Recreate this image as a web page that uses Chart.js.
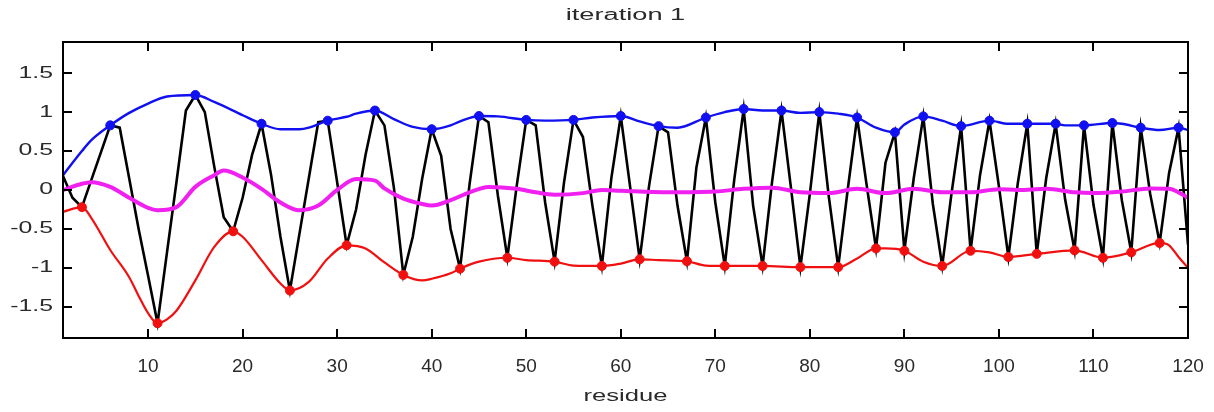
<!DOCTYPE html>
<html><head><meta charset="utf-8">
<script src="https://cdn.jsdelivr.net/npm/chart.js@4.4.1/dist/chart.umd.min.js"></script>
<style>html,body{margin:0;padding:0;background:#fff;overflow:hidden}canvas{display:block}</style>
</head><body>
<canvas id="c" width="1214" height="412"></canvas>
<script>
const titleText = 'iteration 1';
const xAxisTitle = 'residue';
const xTicks = [10,20,30,40,50,60,70,80,90,100,110,120];
const yTicks = [-1.5,-1,-0.5,0,0.5,1,1.5];

// black zig-zag, one value per residue 1..120
const residues = [];
for (let r = 1; r <= 120; r++) residues.push(r);
const blackVals = [
 0.18,-0.1,-0.22,0.13,0.48,0.83,0.8,0.15,-0.5,-1.1,
 -1.71,-0.8,0.1,1.02,1.22,1.0,0.3,-0.35,-0.53,-0.1,
 0.45,0.85,0.2,-0.6,-1.29,-0.57,0.15,0.87,0.89,0.1,
 -0.71,-0.25,0.45,1.02,0.83,0.03,-1.09,-0.6,0.15,0.78,
 0.44,-0.5,-1.01,0.07,0.95,0.87,-0.07,-0.87,0.06,0.90,
 0.83,-0.16,-0.92,0.10,0.90,0.68,-0.2,-0.975,0.15,0.95,
 0.03,-0.89,0.06,0.82,0.74,-0.2,-0.915,0.29,0.93,-0.16,
 -0.975,0.13,1.04,-0.2,-0.975,0.1,1.02,0.03,-0.99,-0.05,
 1.0,-0.08,-0.99,0.0,0.93,0.07,-0.75,0.35,0.74,-0.78,
 0.16,0.945,-0.17,-0.975,-0.03,0.82,-0.78,0.19,0.89,0.045,
 -0.86,0.09,0.85,-0.82,0.15,0.85,-0.12,-0.775,0.83,-0.19,
 -0.87,0.86,-0.13,-0.80,0.80,-0.05,-0.68,0.22,0.80,-0.7
];

// upper envelope (blue)
const blueEnvRes  = [1,3,4,6,8,10,12,15,17,20,22,24,26,27,29,31,32,34,36,38,40,42,43,45,47,50,52,55,57,60,62,64,66,69,71,73,75,77,79,81,83,85,87,89,90,92,94,96,99,101,103,106,107,109,112,113,115,117,119,120];
const blueEnvVals = [0.19,0.50,0.64,0.83,0.99,1.11,1.20,1.22,1.13,0.96,0.85,0.78,0.78,0.80,0.89,0.94,0.98,1.02,0.91,0.81,0.78,0.83,0.88,0.95,0.945,0.90,0.89,0.90,0.93,0.95,0.88,0.82,0.80,0.93,1.0,1.04,1.02,1.02,0.99,1.0,0.98,0.93,0.80,0.74,0.84,0.945,0.89,0.82,0.89,0.85,0.85,0.85,0.83,0.83,0.86,0.85,0.80,0.77,0.80,0.77];

// lower envelope (red)
const redEnvRes  = [1,3,4,6,8,9,10,11,12,13,15,17,19,20,22,24,25,27,29,31,33,35,37,39,40,42,43,45,48,50,53,55,58,60,62,64,67,69,71,75,79,83,85,87,88,90,92,94,97,99,101,104,108,111,114,117,118,119,120];
const redEnvVals = [-0.28,-0.22,-0.36,-0.77,-1.12,-1.36,-1.58,-1.71,-1.66,-1.55,-1.16,-0.73,-0.53,-0.6,-0.9,-1.2,-1.29,-1.18,-0.88,-0.71,-0.75,-0.93,-1.09,-1.16,-1.14,-1.07,-1.01,-0.92,-0.87,-0.9,-0.92,-0.97,-0.975,-0.945,-0.89,-0.9,-0.915,-0.97,-0.975,-0.975,-0.99,-0.99,-0.88,-0.75,-0.75,-0.78,-0.92,-0.975,-0.78,-0.8,-0.86,-0.82,-0.775,-0.87,-0.8,-0.68,-0.71,-0.86,-1.0];

// middle line (magenta)
const magentaRes  = [1,3,4,6,8,10,11,13,15,17,18,20,22,24,26,28,30,32,34,35,37,39,40,42,44,46,49,51,53,56,58,60,65,70,73,76,79,82,85,88,91,94,97,100,102,105,108,110,113,116,118,119,120];
const magentaVals = [0.0,0.08,0.10,0.04,-0.1,-0.23,-0.26,-0.22,0.04,0.19,0.25,0.16,0.015,-0.16,-0.26,-0.2,0.0,0.14,0.12,0.02,-0.11,-0.18,-0.2,-0.13,-0.03,0.04,0.015,-0.03,-0.06,-0.04,0.0,-0.01,-0.03,-0.02,0.015,0.03,-0.03,-0.04,0.015,-0.04,0.015,-0.03,-0.03,0.01,0.0,0.015,-0.03,-0.04,-0.02,0.02,0.015,-0.03,-0.1];

// markers
const bluePeakRes  = [6,15,22,29,34,40,45,50,55,60,64,69,73,77,81,85,89,92,96,99,103,106,109,112,115,119];
const bluePeakVals = [0.83,1.22,0.85,0.89,1.02,0.78,0.95,0.90,0.90,0.95,0.82,0.93,1.04,1.02,1.0,0.93,0.74,0.945,0.82,0.89,0.85,0.85,0.83,0.86,0.80,0.80];
const redTroughRes  = [3,11,19,25,31,37,43,48,53,58,62,67,71,75,79,83,87,90,94,97,101,104,108,111,114,117];
const redTroughVals = [-0.22,-1.71,-0.53,-1.29,-0.71,-1.09,-1.01,-0.87,-0.92,-0.975,-0.89,-0.915,-0.975,-0.975,-0.99,-0.99,-0.75,-0.78,-0.975,-0.78,-0.86,-0.82,-0.775,-0.87,-0.80,-0.68];

const pts = (xs, ys) => xs.map((x, i) => ({x: x, y: ys[i]}));

const BLUE = '#1010f0', RED = '#f01010', MAG = '#f020f0', BLK = '#000000';
const TXT = '#2a2a2a';

const framePlugin = {
  id: 'frame',
  afterDraw(chart) {
    const ctx = chart.ctx, a = chart.chartArea;
    const xs = chart.scales.x, ys = chart.scales.y;
    ctx.save();
    ctx.fillStyle = '#000';
    const L = Math.round(a.left), R = Math.round(a.right), T = Math.round(a.top), B = Math.round(a.bottom);
    // frame
    ctx.fillRect(L - 1, T - 1, R - L + 2, 2);
    ctx.fillRect(L - 1, B - 1, R - L + 2, 2);
    ctx.fillRect(L - 1, T - 1, 2, B - T + 2);
    ctx.fillRect(R - 1, T - 1, 2, B - T + 2);
    // inward tick marks on all four sides
    const tl = 9;
    xTicks.forEach(v => {
      const p = Math.round(xs.getPixelForValue(v));
      ctx.fillRect(p - 1, B - tl, 2, tl);
      ctx.fillRect(p - 1, T, 2, tl);
    });
    yTicks.forEach(v => {
      const p = Math.round(ys.getPixelForValue(v));
      ctx.fillRect(L, p - 1, tl, 2);
      ctx.fillRect(R - tl, p - 1, tl, 2);
    });

    // y tick labels (stretched like the source), positioned by the y scale
    ctx.fillStyle = TXT;
    ctx.font = '16px "Liberation Sans", Arial, sans-serif';
    ctx.textAlign = 'right';
    ctx.textBaseline = 'middle';
    ys.ticks.forEach((t, i) => {
      const p = ys.getPixelForValue(t.value);
      ctx.save(); ctx.translate(L - 10, p); ctx.scale(1.55, 1);
      ctx.fillText(String(yTicks[i]), 0, 0); ctx.restore();
    });

    const cx = (a.left + a.right) / 2;
    ctx.textAlign = 'center';
    ctx.font = '16px "Liberation Sans", Arial, sans-serif';
    ctx.save(); ctx.translate(cx, 16); ctx.scale(1.7, 1); ctx.fillText(titleText, 0, 0); ctx.restore();
    ctx.save(); ctx.translate(cx, 397); ctx.scale(1.6, 1); ctx.fillText(xAxisTitle, 0, 0); ctx.restore();
    ctx.restore();
  }
};

new Chart(document.getElementById('c'), {
  type: 'line',
  data: {
    datasets: [
      { label: 'blue peaks', data: pts(bluePeakRes, bluePeakVals), showLine: false,
        pointRadius: 4.5, pointBackgroundColor: BLUE, pointBorderColor: BLUE, borderColor: BLUE, order: 0 },
      { label: 'red troughs', data: pts(redTroughRes, redTroughVals), showLine: false,
        pointRadius: 4.5, pointBackgroundColor: RED, pointBorderColor: RED, borderColor: RED, order: 0 },
      { label: 'upper', data: pts(blueEnvRes, blueEnvVals), borderColor: BLUE, borderWidth: 2.4,
        pointRadius: 0, cubicInterpolationMode: 'monotone', order: 1 },
      { label: 'lower', data: pts(redEnvRes, redEnvVals), borderColor: RED, borderWidth: 2.2,
        pointRadius: 0, cubicInterpolationMode: 'monotone', order: 1 },
      { label: 'mean', data: pts(magentaRes, magentaVals), borderColor: MAG, borderWidth: 4,
        pointRadius: 0, cubicInterpolationMode: 'monotone', order: 2 },
      { label: 'signal', data: pts(residues, blackVals), borderColor: BLK, borderWidth: 2.6,
        pointRadius: 0, tension: 0, order: 3 }
    ]
  },
  options: {
    responsive: false,
    animation: false,
    devicePixelRatio: 1,
    layout: { padding: { left: 0, right: 26, top: 42, bottom: 0 } },
    plugins: { legend: { display: false }, tooltip: { enabled: false }, title: { display: false } },
    scales: {
      x: {
        type: 'linear', min: 1, max: 120,
        afterBuildTicks: s => { s.ticks = xTicks.map(v => ({ value: v })); },
        afterFit: s => { s.height = 74; },
        grid: { display: false }, border: { display: false },
        ticks: { autoSkip: false, maxRotation: 0, padding: 9, color: TXT,
          font: { family: '"Liberation Sans Narrow", "Liberation Sans", Arial, sans-serif', size: 19 },
          callback: v => String(v) }
      },
      y: {
        type: 'linear', min: -1.9, max: 1.9,
        afterBuildTicks: s => { s.ticks = yTicks.map(v => ({ value: v })); },
        afterFit: s => { s.width = 63; },
        grid: { display: false }, border: { display: false },
        ticks: { display: false }
      }
    }
  },
  plugins: [framePlugin]
});
</script>
</body></html>
